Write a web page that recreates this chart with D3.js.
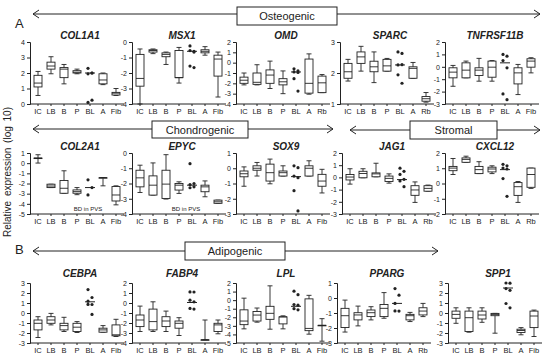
<!DOCTYPE html>
<html>
<head>
<meta charset="utf-8">
<script src="https://cdn.jsdelivr.net/npm/d3@7"></script>
<style>
body { margin: 0; background: #fff; }
text { font-family: "Liberation Sans", Arial, sans-serif; fill: #222; }
</style>
</head>
<body>
<svg id="chart" width="550" height="359"></svg>
<script>
// category labels
var cats = ["IC", "LB", "B", "P", "BL", "A", "Fib"];
var catsRb = ["IC", "LB", "B", "P", "BL", "A", "Rb"];

// box = [min, q1, median, q3, max]; BL groups are single points + median
var col1a1 = [[0.55, 1.1, 1.35, 1.85, 2.1], [1.95, 2.25, 2.45, 2.7, 3.05], [1.3, 1.7, 2.25, 2.35, 2.55],
	[1.95, 2.0, 2.05, 2.15, 2.25], {pts: [2.3, 2.0, 1.95, 2.0, 0.1, 0.25], med: 2.0},
	[1.25, 1.3, 1.55, 1.95, 2.0], [0.55, 0.58, 0.7, 0.75, 1.0]];
var msx1 = [[-4.0, -2.85, -2.35, -0.8, -0.45], [-0.75, -0.65, -0.55, -0.5, -0.45], [-1.45, -0.95, -0.8, -0.7, -0.65],
	[-2.65, -2.3, -2.3, -0.55, -0.35], {pts: [-0.25, -0.6, -0.55, -0.65, -1.55, -1.65], med: -0.6},
	[-0.85, -0.7, -0.6, -0.5, -0.3], [-3.55, -2.2, -1.1, -0.85, -0.65]];
var omd = [[-2.15, -2.0, -1.7, -1.4, -1.0], [-2.15, -2.1, -1.9, -1.0, -0.2], [-2.5, -2.0, -1.2, -0.7, 0.15],
	[-3.0, -2.15, -1.85, -1.55, -0.8], {pts: [-0.6, -0.8, -0.9, -0.95, -1.55, -2.75], med: -0.9},
	[-3.05, -2.95, -2.0, 0.35, 0.85], [-2.9, -2.9, -1.95, -1.3, -1.15]];
var sparc = [[1.74, 1.83, 2.04, 2.31, 2.44], [2.06, 2.31, 2.52, 2.68, 2.86], [1.69, 2.04, 2.2, 2.38, 2.68],
	[2.06, 2.06, 2.23, 2.44, 2.47], {pts: [2.68, 2.63, 2.26, 2.27, 1.94, 1.67], med: 2.26},
	[1.83, 1.83, 2.15, 2.2, 2.34], [1.06, 1.09, 1.17, 1.24, 1.37]];
var tnfrsf11b = [[-1.57, -0.89, -0.43, -0.08, 0.11], [-0.89, -0.89, -0.27, 0.32, 0.46], [-1.16, -0.7, -0.27, -0.08, 0.68],
	[-1.16, -0.84, -0.03, 0.46, 0.5], {pts: [1.0, 0.86, 0.5, -0.08, -2.19, -2.65], med: 0.32},
	[-2.24, -1.38, -0.49, -0.08, 0.19], [-0.49, -0.03, 0.46, 0.65, 0.73]];
var col2a1 = [[0.01, 0.5, 0.5, 0.5, 0.83], [-2.4, -2.4, -2.25, -2.07, -2.07], [-2.96, -2.96, -2.47, -1.7, -0.75],
	[-3.1, -2.96, -2.8, -2.63, -2.4], {pts: [-1.64, -2.4, -3.12], med: -2.4},
	[-2.23, -1.43, -1.43, -1.43, -1.41], [-4.1, -3.72, -3.13, -2.3, -2.23]];
var epyc = [[-2.59, -2.22, -1.63, -1.13, -0.8], [-2.76, -2.76, -2.11, -1.5, -0.65], [-3.02, -2.98, -2.04, -1.13, -0.11],
	[-2.65, -2.43, -2.11, -2.0, -1.89], {pts: [-0.7, -2.0, -2.07, -2.22, -2.28], med: -2.11},
	[-2.87, -2.54, -2.22, -2.11, -1.83], [-3.3, -3.3, -3.2, -3.09, -3.09]];
var sox9 = [[-1.18, -0.56, -0.36, -0.18, 0.09], [-0.51, -0.13, 0.0, 0.16, 0.38], [-1.02, -0.84, -0.29, 0.27, 0.6],
	[-0.51, -0.51, -0.29, -0.18, 0.16], {pts: [0.16, 0.04, -0.51, -0.62, -1.47, -2.8], med: -0.55},
	[-0.51, -0.51, 0.0, 0.16, 0.49], [-1.62, -1.18, -0.84, -0.4, -0.07]];
var jag1 = [[-0.55, -0.21, 0.03, 0.24, 0.71], [-0.03, -0.03, 0.32, 0.5, 0.71], [0.05, 0.05, 0.29, 0.37, 1.16],
	[-0.47, -0.34, -0.08, 0.11, 0.29], {pts: [0.76, 0.5, 0.24, -0.16, -0.29, -0.76], med: -0.18},
	[-2.05, -1.47, -1.03, -0.68, -0.37], [-1.13, -1.13, -0.9, -0.68, -0.63]];
var cxcl12 = [[0.59, 0.84, 1.01, 1.12, 1.64], [1.39, 1.39, 1.58, 1.68, 1.79], [0.65, 0.65, 0.91, 1.12, 1.43],
	[0.65, 0.76, 0.95, 1.07, 1.16], {pts: [1.26, 1.16, 1.01, 0.95, 0.32, -0.84], med: 0.91},
	[-1.24, -0.78, -0.21, 0.06, 0.13], [-0.32, -0.25, 0.59, 1.01, 1.01]];
var cebpa = [[-2.45, -1.69, -1.03, -0.7, -0.37], [-1.19, -1.03, -0.7, -0.37, -0.04], [-1.85, -1.69, -1.26, -1.03, -0.43],
	[-1.95, -1.85, -1.42, -1.03, -0.86], {pts: [2.34, 1.55, 1.18, 0.85, 0.86, -0.14], med: 1.12},
	[-1.92, -1.92, -1.69, -1.52, -1.26], [-2.35, -2.28, -2.18, -1.19, -0.63]];
var fabp4 = [[-2.85, -2.36, -1.7, -1.2, -0.31], [-2.85, -2.69, -1.86, -0.61, 0.12], [-2.85, -2.36, -1.8, -1.37, -0.81],
	[-3.25, -2.52, -2.03, -1.8, -1.47], {pts: [1.11, 1.1, 0.28, 0.12, -0.54, -0.61], med: 0.05},
	[-3.68, -3.68, -3.68, -3.68, -1.7], [-3.08, -2.85, -2.19, -2.03, -1.7]];
var lpl = [[-3.35, -2.86, -2.44, -1.13, 0.23], [-2.57, -2.44, -1.74, -1.33, -0.92], [-3.39, -2.24, -1.54, -0.72, 1.67],
	[-3.35, -2.77, -1.95, -1.95, -1.83], {pts: [1.05, 0.64, -0.51, -0.59, -1.0, -1.13], med: -0.72},
	[-3.97, -3.56, -3.3, 0.15, 0.56], [-4.79, -2.94, -2.94, -2.94, -2.16]];
var pparg = [[-2.27, -1.97, -1.18, -0.69, -0.14], [-1.86, -1.46, -1.13, -0.98, -0.54], [-1.46, -1.24, -0.98, -0.8, -0.58],
	[-1.35, -1.24, -0.69, -0.43, 0.36], {pts: [0.63, 0.19, -0.36, -0.87, -0.86], med: -0.36},
	[-1.57, -1.46, -1.18, -1.09, -0.96], [-1.24, -1.13, -0.87, -0.65, -0.36]];
var spp1 = [[-1.03, -0.53, -0.14, 0.19, 0.52], [-1.92, -1.85, -0.47, 0.19, 0.52], [-0.93, -0.6, -0.2, 0.19, 0.52],
	[-2.02, -0.27, -0.14, -0.04, -0.04], {pts: [3.0, 2.98, 2.44, 2.27, 0.95, 0.52], med: 2.5},
	[-2.18, -1.95, -1.75, -1.62, -1.46], [-2.35, -1.46, -0.3, 0.19, 0.29]];

// gene name, y range, labels, values
var genes = [
	["COL1A1", [0, 4], cats, col1a1], ["MSX1", [-4, 0], cats, msx1], ["OMD", [-4, 2], catsRb, omd],
	["SPARC", [1, 3], catsRb, sparc], ["TNFRSF11B", [-3, 2], cats, tnfrsf11b],
	["COL2A1", [-5, 1], cats, col2a1], ["EPYC", [-4, 0], cats, epyc], ["SOX9", [-3, 1], cats, sox9],
	["JAG1", [-3, 2], catsRb, jag1], ["CXCL12", [-2, 2], catsRb, cxcl12],
	["CEBPA", [-3, 3], cats, cebpa], ["FABP4", [-4, 2], cats, fabp4], ["LPL", [-5, 2], cats, lpl],
	["PPARG", [-3, 1], catsRb, pparg], ["SPP1", [-3, 3], cats, spp1]
];

// layout
var rows = [{top: 42, bottom: 104, title: 39}, {top: 153, bottom: 214, title: 150}, {top: 283, bottom: 343, title: 277}];
var axisX = [[30, 132, 236, 340, 445], [30, 132, 236, 342, 445], [30, 132, 236, 337, 448]];
var boxW = 8, capW = 5, ink = "#222";

var svg = d3.select("#chart");

genes.forEach(function(g, gi) {
	var r = Math.floor(gi / 5), c = gi % 5;
	var row = rows[r], ax = axisX[r][c];
	var x = d3.scalePoint().domain(d3.range(7)).range([ax + 8, ax + 86]);
	var y = d3.scaleLinear().domain(g[1]).range([row.bottom, row.top]);
	var p = svg.append("g");

	var yAx = p.append("g").attr("transform", "translate(" + ax + ",0)")
		.call(d3.axisLeft(y).tickValues(d3.range(g[1][0], g[1][1] + 1)).tickSize(3).tickPadding(2)
			.tickFormat(function(d) { return String(d); }));
	yAx.selectAll("text").style("font-size", "7px");
	yAx.select(".domain").attr("stroke", ink);
	yAx.selectAll("line").attr("stroke", ink);

	// x baseline with ticks
	p.append("line").attr("x1", ax).attr("x2", ax + 94).attr("y1", row.bottom).attr("y2", row.bottom)
		.attr("stroke", ink);
	p.selectAll(".xt").data(d3.range(7)).enter().append("line")
		.attr("x1", function(d) { return x(d); }).attr("x2", function(d) { return x(d); })
		.attr("y1", row.bottom).attr("y2", row.bottom + 2).attr("stroke", ink);
	p.selectAll(".xl").data(g[2]).enter().append("text")
		.attr("x", function(d, i) { return x(i); }).attr("y", row.bottom + 10)
		.attr("text-anchor", "middle").style("font-size", "7.5px").text(function(d) { return d; });

	p.append("text").attr("x", ax + 50).attr("y", row.title).attr("text-anchor", "middle")
		.style("font-size", "10px").style("font-weight", "bold").style("font-style", "italic").text(g[0]);

	g[3].forEach(function(d, i) {
		var cx = x(i);
		if (d.pts) {
			p.selectAll(null).data(d.pts).enter().append("circle")
				.attr("cx", function(v, k) { return cx + (k % 2 ? 2 : -2); }).attr("cy", function(v) { return y(v); })
				.attr("r", 1.6).attr("fill", ink);
			p.append("line").attr("x1", cx - 5).attr("x2", cx + 5).attr("y1", y(d.med)).attr("y2", y(d.med))
				.attr("stroke", ink).attr("stroke-width", 1);
			return;
		}
		var sw = 0.9;
		p.append("line").attr("x1", cx).attr("x2", cx).attr("y1", y(d[0])).attr("y2", y(d[4]))
			.attr("stroke", ink).attr("stroke-width", sw);
		[d[0], d[4]].forEach(function(v) {
			p.append("line").attr("x1", cx - capW / 2).attr("x2", cx + capW / 2).attr("y1", y(v)).attr("y2", y(v))
				.attr("stroke", ink).attr("stroke-width", sw);
		});
		p.append("rect").attr("x", cx - boxW / 2).attr("width", boxW)
			.attr("y", y(d[3])).attr("height", Math.max(0.5, y(d[1]) - y(d[3])))
			.attr("fill", "#fff").attr("stroke", ink).attr("stroke-width", sw);
		p.append("line").attr("x1", cx - boxW / 2).attr("x2", cx + boxW / 2).attr("y1", y(d[2])).attr("y2", y(d[2]))
			.attr("stroke", ink).attr("stroke-width", sw);
	});
});

// "BD in PVS" notes
[[88, 211], [186, 211]].forEach(function(t) {
	svg.append("text").attr("x", t[0]).attr("y", t[1]).attr("text-anchor", "middle")
		.style("font-size", "6px").text("BD in PVS");
});

// group headers with arrows
function arrow(x1, x2, yy, left, right) {
	svg.append("line").attr("x1", x1).attr("x2", x2).attr("y1", yy).attr("y2", yy).attr("stroke", ink);
	if (left) svg.append("path").attr("d", "M" + (x1 + 6) + "," + (yy - 4) + "L" + x1 + "," + yy + "L" + (x1 + 6) + "," + (yy + 4))
		.attr("fill", "none").attr("stroke", ink);
	if (right) svg.append("path").attr("d", "M" + (x2 - 6) + "," + (yy - 4) + "L" + x2 + "," + yy + "L" + (x2 - 6) + "," + (yy + 4))
		.attr("fill", "none").attr("stroke", ink);
}
function header(label, bx1, bx2, by1, by2) {
	svg.append("rect").attr("x", bx1).attr("y", by1).attr("width", bx2 - bx1).attr("height", by2 - by1)
		.attr("fill", "#fff").attr("stroke", ink);
	svg.append("text").attr("x", (bx1 + bx2) / 2).attr("y", (by1 + by2) / 2 + 4).attr("text-anchor", "middle")
		.style("font-size", "11px").text(label);
}
arrow(33, 237, 14, true, false); arrow(337, 540, 14, false, true);
header("Osteogenic", 237, 337, 7, 25);
arrow(33, 152, 129, true, false); arrow(248, 333, 129, false, true);
header("Chondrogenic", 152, 248, 121, 138);
arrow(350, 410, 130, true, false); arrow(497, 540, 130, false, true);
header("Stromal", 410, 497, 121, 139);
arrow(33, 185, 251, true, false); arrow(285, 438, 251, false, true);
header("Adipogenic", 185, 285, 242, 260);

svg.append("text").attr("x", 15).attr("y", 28).style("font-size", "13px").text("A");
svg.append("text").attr("x", 15).attr("y", 254).style("font-size", "13px").text("B");
svg.append("text").attr("transform", "translate(11,172) rotate(-90)").attr("text-anchor", "middle")
	.style("font-size", "10px").style("word-spacing", "2px").text("Relative expression (log 10)");
</script>
</body>
</html>
